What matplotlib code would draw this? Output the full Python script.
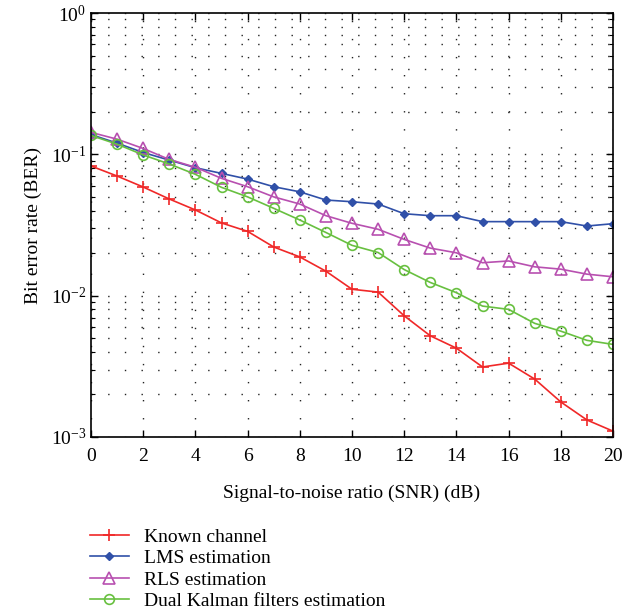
import numpy as np
import matplotlib
matplotlib.use("Agg")
import matplotlib.pyplot as plt
from matplotlib.ticker import LogLocator, FixedLocator, NullFormatter

snr = list(range(0, 21))
known = [0.0827, 0.0702, 0.0587, 0.0483, 0.0404, 0.0327, 0.0285, 0.0221, 0.0188, 0.0149,
         0.0111, 0.0106, 0.0072, 0.0052, 0.00425, 0.00313, 0.00333, 0.00257, 0.00177, 0.00132, 0.0011]
lms = [0.138, 0.120, 0.103, 0.091, 0.0804, 0.0733, 0.0668, 0.059, 0.0543, 0.0475,
       0.0462, 0.0445, 0.038, 0.0368, 0.0368, 0.0334, 0.0334, 0.0334, 0.0334, 0.0311, 0.0323]
rls = [0.143, 0.128, 0.110, 0.092, 0.081, 0.0676, 0.059, 0.050, 0.0445, 0.0368,
       0.0325, 0.0295, 0.025, 0.0217, 0.0201, 0.0171, 0.0176, 0.016, 0.0154, 0.0142, 0.0136]
kalman = [0.136, 0.118, 0.099, 0.0854, 0.0722, 0.0584, 0.050, 0.0415, 0.0343, 0.028,
          0.0227, 0.0202, 0.0153, 0.0124, 0.0105, 0.00844, 0.0080, 0.00637, 0.00561, 0.00483, 0.00452]
labels = ["Known channel", "LMS estimation", "RLS estimation", "Dual Kalman filters estimation"]
xticks = list(range(0, 21, 2))

plt.rcParams['font.family'] = ['Liberation Serif', 'DejaVu Serif']
plt.rcParams['mathtext.fontset'] = 'stix'

fig = plt.figure(figsize=(6.35, 6.13), dpi=100)
ax = fig.add_axes([91/635, 1-437/613, (613-91)/635, (437-13)/613])

red = '#f02828'
blue = '#3050a8'
mag = '#b850b0'
green = '#68c040'

l1, = ax.plot(snr, known, color=red, lw=1.2, marker='+', ms=8, mew=1.2)
l2, = ax.plot(snr, lms, color=blue, lw=1.2, marker='D', ms=4, mfc=blue, mec=blue)
l3, = ax.plot(snr, rls, color=mag, lw=1.2, marker='^', ms=8, mfc='none', mec=mag, mew=1.2)
l4, = ax.plot(snr, kalman, color=green, lw=1.2, marker='o', ms=7, mfc='none', mec=green, mew=1.2)

ax.set_yscale('log')
ax.set_xlim(0, 20)
ax.set_ylim(1e-3, 1)
ax.xaxis.set_major_locator(FixedLocator(xticks))
ax.yaxis.set_major_locator(LogLocator(base=10, numticks=10))
ax.yaxis.set_minor_locator(LogLocator(base=10, subs=np.arange(2, 10), numticks=10))
ax.yaxis.set_minor_formatter(NullFormatter())

ax.tick_params(which='both', direction='in', top=True, right=True, labelsize=14)
ax.tick_params(which='major', length=5, width=1)
ax.tick_params(which='minor', length=3, width=0.8)
ax.tick_params(axis='x', pad=8)

ax.grid(True, which='major', axis='x', color='#222222', linestyle=(0, (1, 12)), lw=1.0)
ax.grid(True, which='both', axis='y', color='#222222', linestyle=(0, (1, 11)), lw=1.0)
for s in ax.spines.values():
    s.set_linewidth(1.2)

ax.set_xlabel("Signal-to-noise ratio (SNR) (dB)", fontsize=14, labelpad=14)
ax.set_ylabel("Bit error rate (BER)", fontsize=14, labelpad=6)

fig.legend([l1, l2, l3, l4], labels, loc='upper left', bbox_to_anchor=(90/635, 1-528/613),
           frameon=False, fontsize=14, labelspacing=0.2, handlelength=2.0,
           handletextpad=0.8, borderpad=0, borderaxespad=0)

fig.savefig("out.png", dpi=100)
